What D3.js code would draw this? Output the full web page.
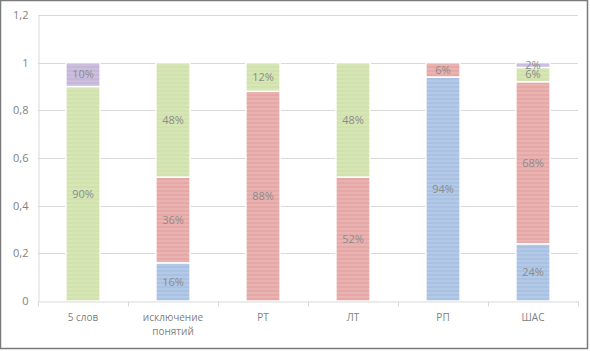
<!DOCTYPE html>
<html>
<head>
<meta charset="utf-8">
<script src="https://cdn.jsdelivr.net/npm/d3@7"></script>
<style>
  body { margin: 0; background: #fff; }
  text { font-family: 'Open Sans', 'DejaVu Sans', sans-serif; }
</style>
</head>
<body>
<script>
const width = 590
const height = 351

const categories = ['5 слов', 'исключение понятий', 'РТ', 'ЛТ', 'РП', 'ШАС']
const blue = [0, 0.16, 0, 0, 0.94, 0.24]
const red = [0, 0.36, 0.88, 0.52, 0.06, 0.68]
const green = [0.9, 0.48, 0.12, 0.48, 0, 0.06]
const purple = [0.1, 0, 0, 0, 0, 0.02]
const yTicks = [0, 0.2, 0.4, 0.6, 0.8, 1, 1.2]

const seriesKeys = ['blue', 'red', 'green', 'purple']
const color = d3.scaleOrdinal()
  .domain(seriesKeys)
  .range(['#a9c1e2', '#e6a8a7', '#d1e2ad', '#c5b6da'])

const rows = categories.map((c, i) => ({
  cat: c, blue: blue[i], red: red[i], green: green[i], purple: purple[i]
}))

const stack = d3.stack().keys(seriesKeys)(rows)

const svg = d3.select('body').append('svg').attr('width', width).attr('height', height)

// outer frame
svg.append('rect')
  .attr('x', 0.5).attr('y', 0.5)
  .attr('width', width - 3).attr('height', height - 3)
  .attr('fill', '#fff')
  .attr('stroke', '#7a7a7a')
  .attr('stroke-width', 1.5)

const x = d3.scaleBand().domain(categories).range([38, 578]).paddingInner(0.62).paddingOuter(0.31)
const y = d3.scaleLinear().domain([0, 1.2]).range([301, 15])

// grid
svg.append('g')
  .selectAll('line')
  .data(yTicks.filter(d => d > 0))
  .join('line')
  .attr('x1', 38).attr('x2', 578)
  .attr('y1', d => Math.round(y(d)) + 0.5).attr('y2', d => Math.round(y(d)) + 0.5)
  .attr('stroke', '#d9d9d9')

// y axis
const yAxis = svg.append('g')
  .attr('transform', 'translate(38.5,0)')
  .call(d3.axisLeft(y).tickValues(yTicks).tickSize(0).tickPadding(10)
    .tickFormat(d => String(d).replace('.', ',')))
yAxis.select('.domain').attr('stroke', '#d9d9d9')
yAxis.selectAll('text').attr('fill', '#7f7f7f').style('font-size', '11px')

// bars
const layer = svg.append('g')
  .selectAll('g')
  .data(stack)
  .join('g')
  .attr('fill', d => color(d.key))

layer.selectAll('rect')
  .data(d => d.map(v => ({ v, key: d.key })))
  .join('rect')
  .attr('x', d => x(d.v.data.cat))
  .attr('width', x.bandwidth())
  .attr('y', d => y(d.v[1]))
  .attr('height', d => y(d.v[0]) - y(d.v[1]))
  .attr('stroke', '#fff')
  .attr('stroke-width', 1.5)

// faint stripes on bars
const stripes = svg.append('defs').append('pattern')
  .attr('id', 'stripes').attr('width', 4).attr('height', 4)
  .attr('patternUnits', 'userSpaceOnUse')
stripes.append('rect').attr('width', 4).attr('height', 2).attr('fill', '#fff').attr('opacity', 0.12)

layer.selectAll('rect.s')
  .data(d => d.map(v => ({ v, key: d.key })).filter(d => d.v[1] > d.v[0]))
  .join('rect')
  .attr('class', 's')
  .attr('x', d => x(d.v.data.cat))
  .attr('width', x.bandwidth())
  .attr('y', d => y(d.v[1]) + 1)
  .attr('height', d => Math.max(0, y(d.v[0]) - y(d.v[1]) - 2))
  .attr('fill', 'url(#stripes)')

// value labels
layer.selectAll('text')
  .data(d => d.map(v => ({ v, key: d.key })).filter(d => d.v[1] > d.v[0]))
  .join('text')
  .attr('x', d => x(d.v.data.cat) + x.bandwidth() / 2)
  .attr('y', d => y((d.v[0] + d.v[1]) / 2))
  .attr('dy', '0.35em')
  .attr('text-anchor', 'middle')
  .attr('fill', '#8c8c8c')
  .style('font-size', '11px')
  .text(d => Math.round((d.v[1] - d.v[0]) * 100) + '%')

// x axis
const xAxis = svg.append('g')
  .attr('transform', 'translate(0,301.5)')
  .call(d3.axisBottom(x).tickSize(0).tickPadding(12))
xAxis.select('.domain').attr('stroke', '#d9d9d9')
xAxis.selectAll('text')
  .attr('fill', '#7f7f7f')
  .style('font-size', '10px')
  .each(function (d) {
    // only long labels wrap onto two lines
    const words = d.length > 10 ? d.split(' ') : [d]
    const t = d3.select(this).text(null)
    words.forEach((w, i) => {
      t.append('tspan').attr('x', 0).attr('dy', i === 0 ? '0.71em' : '1.45em').text(w)
    })
  })

// category separator ticks
const step = x.step()
xAxis.selectAll('line.sep')
  .data(d3.range(categories.length + 1))
  .join('line')
  .attr('class', 'sep')
  .attr('x1', i => 38 + i * step + 0.5).attr('x2', i => 38 + i * step + 0.5)
  .attr('y1', 0).attr('y2', 5)
  .attr('stroke', '#d9d9d9')
</script>
</body>
</html>
